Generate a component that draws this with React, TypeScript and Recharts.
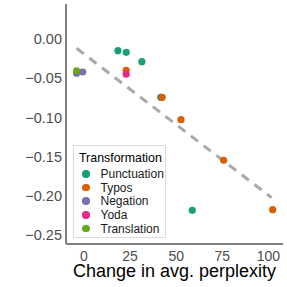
import { Legend, ReferenceLine, Scatter, ScatterChart, XAxis, YAxis } from "recharts";

type Pt = { x: number; y: number };

const seriesNames = ["Punctuation", "Typos", "Negation", "Yoda", "Translation"];
const seriesColors = ["#1B9E77", "#D95F02", "#7570B3", "#E7298A", "#66A61E"];

const punctuation: Pt[] = [
  { x: 18.4, y: -0.0149 },
  { x: 22.9, y: -0.017 },
  { x: 31.4, y: -0.029 },
  { x: 41.6, y: -0.0744 },
  { x: 58.7, y: -0.2185 },
];
const typos: Pt[] = [
  { x: 22.9, y: -0.04 },
  { x: 42.4, y: -0.0744 },
  { x: 52.6, y: -0.1029 },
  { x: 75.7, y: -0.1547 },
  { x: 102.3, y: -0.2177 },
];
const negation: Pt[] = [
  { x: -4.0, y: -0.0437 },
  { x: -0.7, y: -0.0421 },
];
const yoda: Pt[] = [{ x: 22.9, y: -0.045 }];
const translation: Pt[] = [{ x: -4.0, y: -0.0408 }];

const trendLine: Pt[] = [
  { x: -4.0, y: -0.0119 },
  { x: 101.7, y: -0.2024 },
];

const xTicks = [0, 25, 50, 75, 100];
const yTicks = [0, -0.05, -0.1, -0.15, -0.2, -0.25];

const allSeries = [punctuation, typos, negation, yoda, translation];

const FONT = '"Liberation Sans", Arial, sans-serif';

const fmtY = (v: number) => {
  const s = Math.abs(v).toFixed(2);
  return v < 0 ? "\u2212" + s : s;
};

function LegendBox() {
  return (
    <div
      style={{
        width: 93,
        height: 93,
        boxSizing: "border-box",
        border: "1px solid #dcdcdc",
        background: "#fff",
        fontFamily: FONT,
        padding: "4px 0 0 5px",
        textAlign: "left",
      }}
    >
      <div style={{ fontSize: 12.4, color: "#000", lineHeight: "16px", marginBottom: 1 }}>
        Transformation
      </div>
      {seriesNames.map((name, i) => (
        <div
          key={name}
          style={{ display: "flex", alignItems: "center", height: 13.7, fontSize: 12, color: "#1a1a1a" }}
        >
          <span
            style={{
              display: "inline-block",
              width: 7.5,
              height: 7.5,
              borderRadius: "50%",
              background: seriesColors[i],
              marginLeft: 3,
              marginRight: 11,
            }}
          />
          {name}
        </div>
      ))}
    </div>
  );
}

export default function App() {
  return (
    <div style={{ position: "absolute", left: 0, top: 0 }}>
      <ScatterChart
        width={287}
        height={287}
        margin={{ top: 4, right: 4, bottom: 0, left: 0 }}
        style={{ fontFamily: FONT }}
      >
        <XAxis
          type="number"
          dataKey="x"
          domain={[-9.75, 107.9]}
          allowDataOverflow
          ticks={xTicks}
          height={43}
          tickLine={false}
          tickSize={4}
          tickMargin={3}
          axisLine={{ stroke: "#7f7f7f", strokeWidth: 2 }}
          tick={{ fontSize: 14, fill: "#4d4d4d" }}
          label={{
            value: "Change in avg. perplexity",
            position: "insideBottom",
            offset: 10,
            fontSize: 18,
            fill: "#000",
          }}
        />
        <YAxis
          type="number"
          dataKey="y"
          domain={[-0.2615, 0.0446]}
          allowDataOverflow
          ticks={yTicks}
          width={66}
          tickLine={false}
          tickSize={2}
          tickMargin={2}
          tickFormatter={fmtY}
          axisLine={{ stroke: "#7f7f7f", strokeWidth: 2 }}
          tick={{ fontSize: 14.5, fill: "#4d4d4d" }}
        />
        <ReferenceLine
          segment={trendLine}
          stroke="#a9a9a9"
          strokeWidth={3}
          strokeDasharray="9 7"
          ifOverflow="visible"
        />
        {allSeries.map((data, i) => (
          <Scatter
            key={seriesNames[i]}
            name={seriesNames[i]}
            data={data}
            fill={seriesColors[i]}
            isAnimationActive={false}
            shape={(p: any) => <circle cx={p.cx} cy={p.cy} r={3.6} fill={seriesColors[i]} />}
          />
        ))}
        <Legend
          layout="vertical"
          align="center"
          verticalAlign="middle"
          wrapperStyle={{ left: 73, top: 145, width: 93 }}
          content={() => <LegendBox />}
        />
      </ScatterChart>
    </div>
  );
}
